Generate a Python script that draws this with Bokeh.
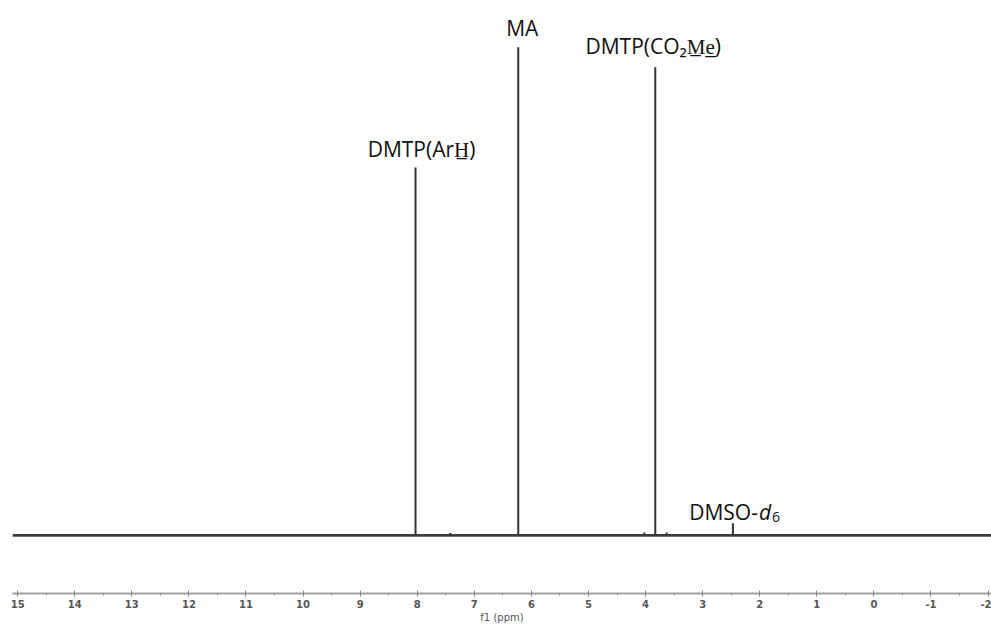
from bokeh.plotting import figure
from bokeh.models import Range1d, FixedTicker, ColumnDataSource
from bokeh.core.properties import value
from bokeh.embed import file_html
from bokeh.resources import INLINE

# ---- data ----
peak_ppm = [8.03, 7.42, 6.23, 4.02, 3.83, 3.63, 2.47]
peak_int = [75.4, 0.5, 100.0, 0.6, 95.9, 0.6, 2.5]
ppm_span = [15.09, -2.06]
base_int = [0.0, 0.0]
tick_values = [15, 14, 13, 12, 11, 10, 9, 8, 7, 6, 5, 4, 3, 2, 1, 0, -1, -2]
tick_text = ["15", "14", "13", "12", "11", "10", "9", "8", "7", "6", "5", "4",
             "3", "2", "1", "0", "-1", "-2"]
minor_values = [14.5, 13.5, 12.5, 11.5, 10.5, 9.5, 8.5, 7.5, 6.5, 5.5, 4.5,
                3.5, 2.5, 1.5, 0.5, -0.5, -1.5]
label_text = ["DMTP(ArH\u0332)", "MA", "DMTP(CO\u2082M\u0332e\u0332)"]
label_peak = [0, 2, 4]          # index of the peak each label belongs to
solvent_peak = 6
solvent_parts = ["DMSO-", "d", "6"]

FONT = value("Open Sans")

p = figure(width=991, height=625, output_backend="svg", toolbar_location=None,
           x_range=Range1d(ppm_span[0], ppm_span[1]), y_range=Range1d(-11.9, 109.6),
           y_axis_location=None, min_border_left=12, min_border_right=0,
           min_border_top=0, min_border_bottom=32)
p.outline_line_color = None
p.xgrid.visible = False
p.ygrid.visible = False
p.background_fill_color = "white"

# spectrum
p.line(ppm_span, base_int, line_color="#3c3c3c", line_width=2.6)
p.segment(x0=peak_ppm, y0=[0.0] * len(peak_ppm), x1=peak_ppm, y1=peak_int,
          line_color="#333333", line_width=2)

# peak labels
src = ColumnDataSource(dict(x=[peak_ppm[i] for i in label_peak],
                            y=[peak_int[i] for i in label_peak],
                            t=label_text,
                            dy=[-18, -19, -21],
                            dx=[6, 4, -2]))
p.text(x="x", y="y", text="t", x_offset="dx", y_offset="dy", source=src,
       text_align="center", text_baseline="alphabetic",
       text_font=FONT, text_font_size="21px", text_color="#111111")

sx, sy = peak_ppm[solvent_peak], peak_int[solvent_peak]
p.text(x=[sx], y=[sy], text=[solvent_parts[0]], x_offset=25, y_offset=-11,
       text_align="right", text_baseline="alphabetic",
       text_font=FONT, text_font_size="21px", text_color="#111111")
p.text(x=[sx], y=[sy], text=[solvent_parts[1]], x_offset=26, y_offset=-11,
       text_align="left", text_baseline="alphabetic", text_font_style="italic",
       text_font=FONT, text_font_size="21px", text_color="#111111")
p.text(x=[sx], y=[sy], text=[solvent_parts[2]], x_offset=39, y_offset=-6,
       text_align="left", text_baseline="alphabetic",
       text_font=FONT, text_font_size="14px", text_color="#111111")

# x axis
ax = p.xaxis[0]
ax.ticker = FixedTicker(ticks=tick_values, minor_ticks=minor_values)
ax.major_label_overrides = {v: t for v, t in zip(tick_values, tick_text)}
ax.axis_line_color = "#a0a0a0"
ax.axis_line_width = 2
ax.major_tick_in = 3
ax.major_tick_out = 3
ax.major_tick_line_color = "#888888"
ax.minor_tick_in = 0
ax.minor_tick_out = 2
ax.minor_tick_line_color = "#888888"
ax.major_label_standoff = 3
ax.major_label_text_font = "DejaVu Sans"
ax.major_label_text_font_size = "10px"
ax.major_label_text_font_style = "bold"
ax.major_label_text_color = "#555555"
ax.axis_label = "f1 (ppm)"
ax.axis_label_standoff = 1
ax.axis_label_text_font = "DejaVu Sans"
ax.axis_label_text_font_size = "10px"
ax.axis_label_text_font_style = "normal"
ax.axis_label_text_color = "#555555"

open("out.html", "w").write(file_html(p, INLINE))
